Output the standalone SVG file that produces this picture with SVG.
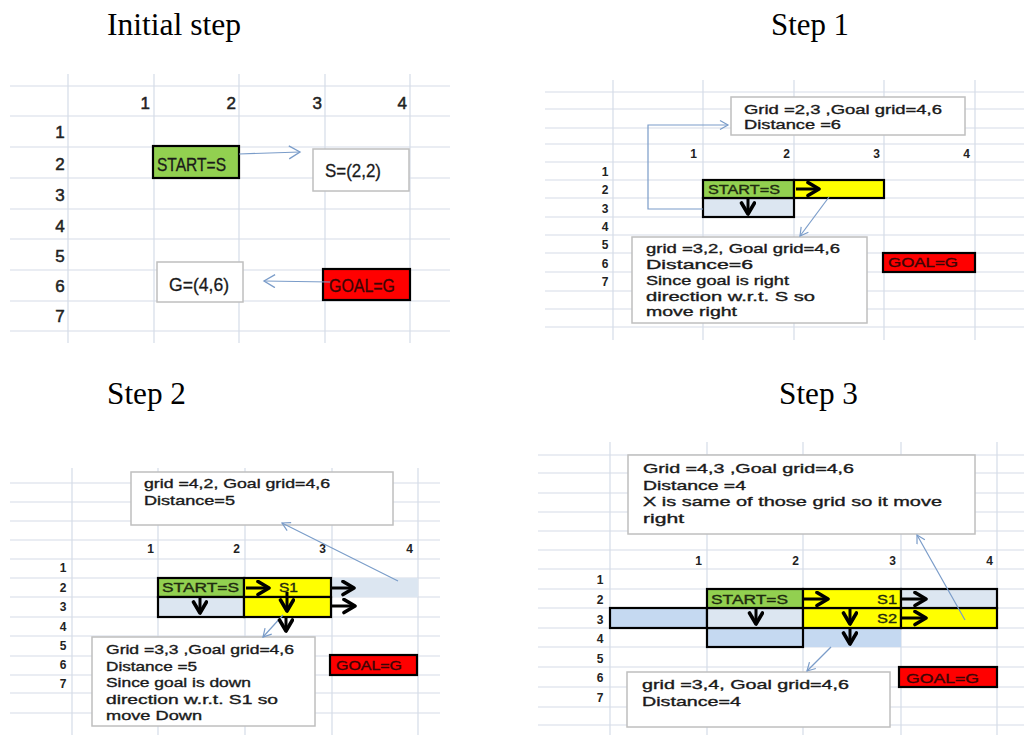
<svg xmlns="http://www.w3.org/2000/svg" width="1024" height="735" viewBox="0 0 1024 735">
<style>
.bg{fill:#ffffff}
.gl{stroke:#d5dce8;stroke-width:1.2;fill:none}
.title{font-family:"Liberation Serif","Times New Roman",serif;font-size:31px;fill:#000}
.lbl0{font-family:"Liberation Sans",Arial,sans-serif;font-size:17px;fill:#222;stroke:#222;stroke-width:0.5}
.lbl{font-family:"Liberation Sans",Arial,sans-serif;font-size:12px;font-weight:bold;fill:#222}
.t0{font-family:"Liberation Sans",Arial,sans-serif;font-size:18px;fill:#1a1a1a;stroke:#1a1a1a;stroke-width:0.3}
.t{font-family:"Liberation Sans",Arial,sans-serif;font-size:13px;fill:#1a1a1a;stroke:#1a1a1a;stroke-width:0.35}
.ts{font-family:"Liberation Sans",Arial,sans-serif;font-size:12.5px;fill:#1f2a10;stroke:#1f2a10;stroke-width:0.35}
.green{fill:#92d050;stroke:#000;stroke-width:2.2}
.yellow{fill:#ffff00;stroke:#000;stroke-width:2.2}
.red{fill:#ff0000;stroke:#000;stroke-width:2.2}
.lb{fill:#dce6f1;stroke:#000;stroke-width:2.2}
.lb2{fill:#c5d9f1;stroke:#000;stroke-width:2.2}
.lbn{fill:#dce6f1;stroke:none}
.lb2n{fill:#c5d9f1;stroke:none}
.box{fill:#ffffff;stroke:#bfbfbf;stroke-width:1.5}
.con{stroke:#7a9cc9;stroke-width:1.2;fill:none}
.blk{stroke:#000;stroke-width:3;fill:none}
.gt{fill:#3a0606;stroke:#3a0606}
</style>
<defs>
<marker id="ba" markerUnits="userSpaceOnUse" markerWidth="14" markerHeight="14" refX="9" refY="5" orient="auto"><path d="M1,0.5 L9,5 L1,9.5" fill="none" stroke="#7a9cc9" stroke-width="1.2"/></marker>
<marker id="bal" markerUnits="userSpaceOnUse" markerWidth="16" markerHeight="16" refX="12" refY="7" orient="auto"><path d="M1,0.5 L12,7 L1,13.5" fill="none" stroke="#7a9cc9" stroke-width="1.3"/></marker>
<marker id="ka" markerUnits="userSpaceOnUse" markerWidth="18" markerHeight="18" refX="13" refY="8" orient="auto"><path d="M2,1.5 L13,8 L2,14.5" fill="none" stroke="#000" stroke-width="3.6" stroke-linecap="round" stroke-linejoin="round"/></marker>
</defs>
<rect class="bg" x="0" y="0" width="1024" height="735"/>

<!-- Titles -->
<text class="title" x="107" y="35" textLength="134" lengthAdjust="spacingAndGlyphs">Initial step</text>
<text class="title" x="771" y="35" textLength="78" lengthAdjust="spacingAndGlyphs">Step 1</text>
<text class="title" x="107" y="404" textLength="79" lengthAdjust="spacingAndGlyphs">Step 2</text>
<text class="title" x="779" y="404" textLength="79" lengthAdjust="spacingAndGlyphs">Step 3</text>

<!-- ===== Initial step ===== -->
<g id="grid0">
<path class="gl" d="M68,74V343M154,74V343M239,74V343M325,74V343M410,74V343"/>
<path class="gl" d="M10,86H450M10,116H450M10,147H450M10,178H450M10,209H450M10,239H450M10,270H450M10,301H450M10,331H450"/>
<g class="lbl0" text-anchor="end">
<text x="150" y="109">1</text><text x="236" y="109">2</text><text x="322" y="109">3</text><text x="407" y="109">4</text>
</g>
<g class="lbl0" text-anchor="middle">
<text x="60" y="138">1</text><text x="60" y="170">2</text><text x="60" y="201">3</text><text x="60" y="232">4</text><text x="60" y="262">5</text><text x="60" y="292">6</text><text x="60" y="322">7</text>
</g>
</g>
<g id="start0"><rect class="green" x="153" y="146" width="86" height="32"/><text class="t0" x="157" y="171" textLength="69" lengthAdjust="spacingAndGlyphs">START=S</text></g>
<g id="s22"><rect class="box" x="313" y="149" width="96" height="42"/><text class="t0" x="325" y="177" textLength="56" lengthAdjust="spacingAndGlyphs">S=(2,2)</text></g>
<g id="g46"><rect class="box" x="157" y="262" width="86" height="40"/><text class="t0" x="169" y="291" textLength="60" lengthAdjust="spacingAndGlyphs">G=(4,6)</text></g>
<g id="goal0"><rect class="red" x="323" y="269" width="87" height="31"/><text class="t0 gt" x="329" y="292" textLength="66" lengthAdjust="spacingAndGlyphs">GOAL=G</text></g>

<!-- ===== Step 1 ===== -->
<g id="grid1">
<path class="gl" d="M613,80V340M703,80V340M794,80V340M884,80V340M975,80V340"/>
<path class="gl" d="M545,92H1024M545,109H1024M545,128H1024M545,144H1024M545,162H1024M545,180H1024M545,198H1024M545,217H1024M545,235H1024M545,253H1024M545,272H1024M545,291H1024M545,309H1024M545,327H1024"/>
</g>
<g id="cells1">
<rect class="lb" x="703" y="198" width="91" height="19"/>
<rect class="green" x="703" y="180" width="91" height="18"/>
<rect class="yellow" x="794" y="180" width="90" height="18"/>
<text class="ts" x="708" y="194" textLength="72" lengthAdjust="spacingAndGlyphs">START=S</text>
<rect class="red" x="883" y="253" width="92" height="19"/>
<text class="ts gt" x="888" y="267" textLength="70" lengthAdjust="spacingAndGlyphs">GOAL=G</text>
</g>
<g id="box1a"><rect class="box" x="731" y="97" width="234" height="38"/>
<text class="t" x="744" y="114" textLength="198" lengthAdjust="spacingAndGlyphs">Grid =2,3 ,Goal grid=4,6</text>
<text class="t" x="744" y="129" textLength="97" lengthAdjust="spacingAndGlyphs">Distance =6</text></g>
<g id="box1b"><rect class="box" x="632" y="237" width="235" height="86"/>
<text class="t" x="646" y="253" textLength="194" lengthAdjust="spacingAndGlyphs">grid =3,2, Goal grid=4,6</text>
<text class="t" x="646" y="269" textLength="107" lengthAdjust="spacingAndGlyphs">Distance=6</text>
<text class="t" x="646" y="285" textLength="143" lengthAdjust="spacingAndGlyphs">Since goal is right</text>
<text class="t" x="646" y="301" textLength="169" lengthAdjust="spacingAndGlyphs">direction  w.r.t. S so</text>
<text class="t" x="646" y="316" textLength="91" lengthAdjust="spacingAndGlyphs">move right</text></g>
<g id="labels1">
<g class="lbl" text-anchor="end"><text x="697" y="158">1</text><text x="790" y="158">2</text><text x="880" y="158">3</text><text x="970" y="158">4</text></g>
<g class="lbl" text-anchor="middle"><text x="605" y="176">1</text><text x="605" y="194">2</text><text x="605" y="213">3</text><text x="605" y="231">4</text><text x="605" y="249">5</text><text x="605" y="268">6</text><text x="605" y="286">7</text></g>
</g>

<!-- ===== Step 2 ===== -->
<g id="grid2">
<path class="gl" d="M72,468V735M158,468V735M245,468V735M332,468V735M418,468V735"/>
<path class="gl" d="M10,483H440M10,502H440M10,521H440M10,540H440M10,559H440M10,578H440M10,597H440M10,617H440M10,636H440M10,656H440M10,675H440M10,693H440M10,713H440"/>
</g>
<g id="cells2">
<rect class="lbn" x="332" y="578" width="86" height="19"/>
<rect class="green" x="158" y="578" width="86" height="19"/>
<rect class="yellow" x="244" y="578" width="87" height="19"/>
<rect class="lb" x="158" y="597" width="86" height="20"/>
<rect class="yellow" x="244" y="597" width="87" height="20"/>
<text class="ts" x="162" y="592" textLength="77" lengthAdjust="spacingAndGlyphs">START=S</text>
<text class="ts" x="279" y="592" textLength="19" lengthAdjust="spacingAndGlyphs">S1</text>
<rect class="red" x="330" y="655" width="87" height="20"/>
<text class="ts gt" x="336" y="670" textLength="66" lengthAdjust="spacingAndGlyphs">GOAL=G</text>
</g>
<g id="box2a"><rect class="box" x="131" y="472" width="262" height="53"/>
<text class="t" x="144" y="488" textLength="186" lengthAdjust="spacingAndGlyphs">grid =4,2, Goal grid=4,6</text>
<text class="t" x="144" y="505" textLength="91" lengthAdjust="spacingAndGlyphs">Distance=5</text></g>
<g id="box2b"><rect class="box" x="92" y="637" width="223" height="89"/>
<text class="t" x="106" y="654" textLength="188" lengthAdjust="spacingAndGlyphs">Grid =3,3 ,Goal grid=4,6</text>
<text class="t" x="106" y="671" textLength="91" lengthAdjust="spacingAndGlyphs">Distance =5</text>
<text class="t" x="106" y="687" textLength="145" lengthAdjust="spacingAndGlyphs">Since goal is down</text>
<text class="t" x="106" y="704" textLength="172" lengthAdjust="spacingAndGlyphs">direction  w.r.t. S1 so</text>
<text class="t" x="106" y="720" textLength="96" lengthAdjust="spacingAndGlyphs">move Down</text></g>
<g id="labels2">
<g class="lbl" text-anchor="end"><text x="154" y="553">1</text><text x="240" y="553">2</text><text x="326" y="553">3</text><text x="413" y="553">4</text></g>
<g class="lbl" text-anchor="middle"><text x="63" y="572">1</text><text x="63" y="592">2</text><text x="63" y="611">3</text><text x="63" y="631">4</text><text x="63" y="650">5</text><text x="63" y="669">6</text><text x="63" y="688">7</text></g>
</g>

<!-- ===== Step 3 ===== -->
<g id="grid3">
<path class="gl" d="M610,442V735M707,442V735M803,442V735M901,442V735M997,442V735"/>
<path class="gl" d="M538,455H1024M538,473H1024M538,493H1024M538,512H1024M538,531H1024M538,550H1024M538,569H1024M538,589H1024M538,608H1024M538,628H1024M538,647H1024M538,667H1024M538,687H1024M538,707H1024M538,725H1024"/>
</g>
<g id="cells3">
<rect class="lb2n" x="803" y="628" width="98" height="19"/>
<rect class="lb2" x="707" y="628" width="96" height="19"/>
<rect class="lb2" x="610" y="608" width="97" height="20"/>
<rect class="lb" x="707" y="608" width="96" height="20"/>
<rect class="yellow" x="803" y="608" width="98" height="20"/>
<rect class="yellow" x="901" y="608" width="96" height="20"/>
<rect class="green" x="707" y="589" width="96" height="19"/>
<rect class="yellow" x="803" y="589" width="98" height="19"/>
<rect class="lb" x="901" y="589" width="96" height="19"/>
<text class="ts" x="711" y="604" textLength="77" lengthAdjust="spacingAndGlyphs">START=S</text>
<text class="ts" x="877" y="604" textLength="20" lengthAdjust="spacingAndGlyphs">S1</text>
<text class="ts" x="877" y="623" textLength="20" lengthAdjust="spacingAndGlyphs">S2</text>
<rect class="red" x="899" y="667" width="98" height="20"/>
<text class="ts gt" x="906" y="683" textLength="73" lengthAdjust="spacingAndGlyphs">GOAL=G</text>
</g>
<g id="box3a"><rect class="box" x="628" y="455" width="347" height="79"/>
<text class="t" x="643" y="473" textLength="211" lengthAdjust="spacingAndGlyphs">Grid =4,3 ,Goal grid=4,6</text>
<text class="t" x="643" y="490" textLength="103" lengthAdjust="spacingAndGlyphs">Distance =4</text>
<text class="t" x="643" y="506" textLength="299" lengthAdjust="spacingAndGlyphs">X is same of those grid so it move</text>
<text class="t" x="643" y="523" textLength="41" lengthAdjust="spacingAndGlyphs">right</text></g>
<g id="box3b"><rect class="box" x="627" y="672" width="263" height="55"/>
<text class="t" x="642" y="689" textLength="207" lengthAdjust="spacingAndGlyphs">grid =3,4, Goal grid=4,6</text>
<text class="t" x="642" y="706" textLength="99" lengthAdjust="spacingAndGlyphs">Distance=4</text></g>
<g id="labels3">
<g class="lbl" text-anchor="end"><text x="702" y="565">1</text><text x="799" y="565">2</text><text x="896" y="565">3</text><text x="993" y="565">4</text></g>
<g class="lbl" text-anchor="middle"><text x="600" y="584">1</text><text x="600" y="604">2</text><text x="600" y="624">3</text><text x="600" y="643">4</text><text x="600" y="663">5</text><text x="600" y="682">6</text><text x="600" y="702">7</text></g>
</g>

<!-- ===== Connectors ===== -->
<g id="connectors">
<line class="con" x1="239" y1="154" x2="300" y2="152" marker-end="url(#bal)"/>
<line class="con" x1="330" y1="282" x2="264" y2="281" marker-end="url(#bal)"/>
<polyline class="con" points="703,209 648,209 648,125 728,125" marker-end="url(#ba)"/>
<line class="con" x1="829" y1="197" x2="800" y2="236" marker-end="url(#ba)"/>
<line class="con" x1="398" y1="581" x2="282" y2="523" marker-end="url(#ba)"/>
<line class="con" x1="283" y1="615" x2="263" y2="637" marker-end="url(#ba)"/>
<line class="con" x1="965" y1="620" x2="917" y2="535" marker-end="url(#ba)"/>
<line class="con" x1="831" y1="647" x2="807" y2="671" marker-end="url(#ba)"/>
<!-- black move arrows -->
<line class="blk" x1="796" y1="189" x2="819" y2="189" marker-end="url(#ka)"/>
<line class="blk" x1="748" y1="199" x2="748" y2="214" marker-end="url(#ka)"/>
<line class="blk" x1="246" y1="588" x2="269" y2="588" marker-end="url(#ka)"/>
<line class="blk" x1="331" y1="588" x2="354" y2="588" marker-end="url(#ka)"/>
<line class="blk" x1="332" y1="606" x2="355" y2="606" marker-end="url(#ka)"/>
<line class="blk" x1="200" y1="598" x2="200" y2="613" marker-end="url(#ka)"/>
<line class="blk" x1="287" y1="592" x2="287" y2="611" marker-end="url(#ka)"/>
<line class="blk" x1="286" y1="617" x2="286" y2="631" marker-end="url(#ka)"/>
<line class="blk" x1="804" y1="599" x2="828" y2="599" marker-end="url(#ka)"/>
<line class="blk" x1="902" y1="599" x2="926" y2="599" marker-end="url(#ka)"/>
<line class="blk" x1="902" y1="618" x2="926" y2="618" marker-end="url(#ka)"/>
<line class="blk" x1="756" y1="609" x2="756" y2="624" marker-end="url(#ka)"/>
<line class="blk" x1="850" y1="607" x2="850" y2="624" marker-end="url(#ka)"/>
<line class="blk" x1="850" y1="629" x2="850" y2="644" marker-end="url(#ka)"/>
</g>
</svg>
